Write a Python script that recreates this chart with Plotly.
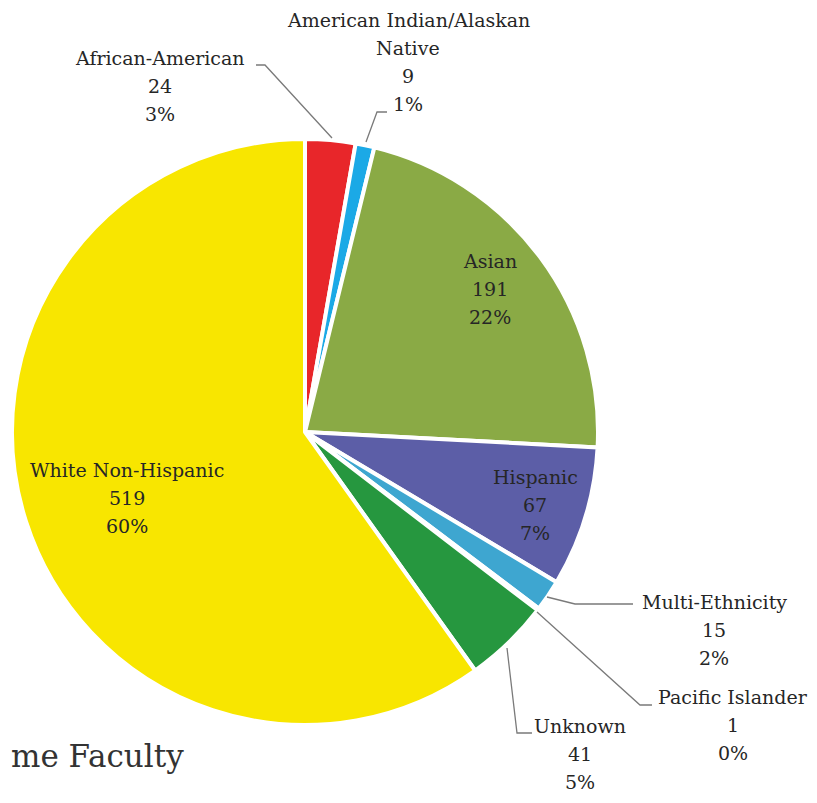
import plotly.graph_objects as go

W, H = 809, 795      # figure size; page body adds an 8px margin
OFF = 8

categories = ["African-American", "American Indian/Alaskan\nNative", "Asian", "Hispanic",
              "Multi-Ethnicity", "Pacific Islander", "Unknown", "White Non-Hispanic"]
counts = [24, 9, 191, 67, 15, 1, 41, 519]
percent_labels = ["3%", "1%", "22%", "7%", "2%", "0%", "5%", "60%"]
colors = ["#E8262A", "#1BA9E6", "#8AAA45", "#5C5EA7", "#3EA6D0", "#B9CF4A", "#26973F", "#F8E600"]

# label first-line centres (page pixels) and leader-line paths (page pixels)
label_top = [(160, 58), (408, 20), (490, 261), (535, 477), (714, 602), (733, 697), (580, 726), (127, 470)]
LINE = 28
leaders = [
    [(256, 65), (265, 65), (332, 138)],
    [(387, 112), (377, 112), (366, 142)],
    None, None,
    [(547, 597), (575, 604), (633, 604)],
    [(537, 612), (640, 705), (652, 705)],
    [(507, 648), (517, 733), (532, 733)],
    None,
]

def px(x, y):
    return (x - OFF) / W, 1 - (y - OFF) / H

cx, cy, r = 305, 432, 293
x0, y1 = px(cx - r, cy - r)
x1, y0 = px(cx + r, cy + r)

fig = go.Figure(go.Pie(
    labels=[c.replace("\n", " ") for c in categories], values=counts, sort=False,
    direction="clockwise", rotation=0,
    marker=dict(colors=colors, line=dict(color="white", width=4)),
    textinfo="none", hoverinfo="label+value+percent", showlegend=False,
    domain=dict(x=[x0, x1], y=[y0, y1]),
))

font = dict(family="DejaVu Serif, Liberation Serif, serif", size=19, color="#262626")
annotations = []
for cat, n, p, (lx, ly) in zip(categories, counts, percent_labels, label_top):
    lines = cat.split("\n") + [str(n), p]
    for i, t in enumerate(lines):
        ax, ay = px(lx, ly + i * LINE)
        annotations.append(dict(text=t, x=ax, y=ay, xref="paper", yref="paper",
                                xanchor="center", yanchor="middle", showarrow=False, font=font))

tx, ty = px(9, 756)
annotations.append(dict(text="me Faculty", x=tx, y=ty, xref="paper", yref="paper", xanchor="left",
                        yanchor="middle", showarrow=False,
                        font=dict(family="DejaVu Serif, Liberation Serif, serif", size=31, color="#333333")))

shapes = []
for path in leaders:
    if path is None:
        continue
    pts = [px(x, y) for x, y in path]
    d = "M " + " L ".join(f"{a:.5f},{b:.5f}" for a, b in pts)
    shapes.append(dict(type="path", path=d, xref="paper", yref="paper",
                       line=dict(color="#7a7a7a", width=1.3)))

fig.update_layout(width=W, height=H, margin=dict(l=0, r=0, t=0, b=0),
                  paper_bgcolor="white", plot_bgcolor="white",
                  annotations=annotations, shapes=shapes)
fig.write_html("out.html")
